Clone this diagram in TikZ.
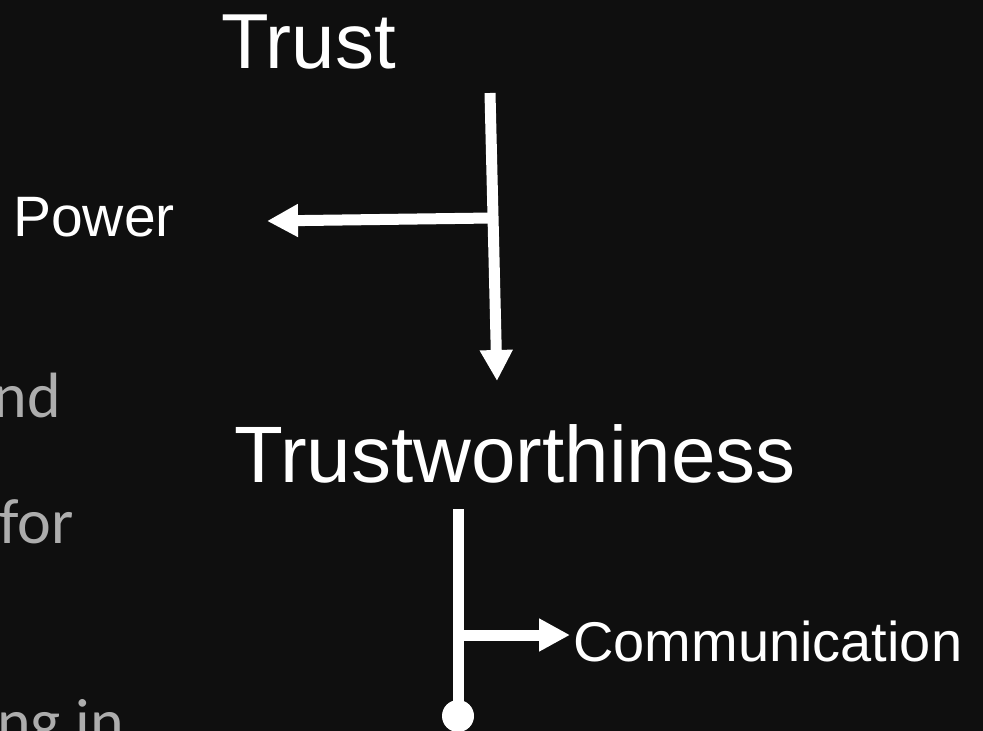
\documentclass[tikz,border=0pt]{standalone}
\usepackage{fontspec}
\setmainfont{Liberation Sans}
\newfontfamily\greyfont{Carlito}
\usetikzlibrary{arrows.meta}
\definecolor{bg}{HTML}{0F0F0F}
\definecolor{greytext}{HTML}{ADADAD}
\begin{document}
\begin{tikzpicture}[x=1pt,y=-1pt,
  lbl/.style={text=white, inner sep=0pt, anchor=base west},
  conn/.style={draw=white, line width=11pt},
  head/.style={-{Triangle[length=31pt,width=31pt]}},
  ghost/.style={text=greytext, inner sep=0pt, font=\greyfont\fontsize{64}{70}\selectfont}]
\fill[bg] (0,0) rectangle (983,731);
\useasboundingbox (0,0) rectangle (983,731);
\clip (0,0) rectangle (983,731);

% faded background text on the left edge
\node[ghost, anchor=base east] (g1) at (61,417) {nd};
\node[ghost, anchor=base west] (g2) at (-1,543) {for};
\node[ghost, anchor=base west] (g3) at (-3,743) {ng in};

% labels
\node[lbl, font=\fontsize{78}{90}\selectfont] (trust) at (221,68) {Trust};
\node[lbl, font=\fontsize{57}{66}\selectfont] (power) at (13,236) {Power};
\node[lbl, font=\fontsize{80}{92}\selectfont] (tw) at (234,482) {Trustworthiness};
\node[lbl, font=\fontsize{56}{64}\selectfont] (comm) at (573,661) {Communication};

% upper connectors
\coordinate (t1) at (490,93);
\coordinate (t2) at (497,381);
\coordinate (tj) at (492,218);
\coordinate (ptip) at (267,221);
\draw[conn, head] (t1) -- (t2);
\draw[conn, head] (tj) -- (ptip);

% lower connectors
\coordinate (b1) at (458,509);
\coordinate (bdot) at (458,716);
\coordinate (bj) at (458,635);
\coordinate (ctip) at (570,635);
\draw[conn] (b1) -- (bdot);
\fill[white] (bdot) circle (16);
\draw[conn, head] (bj) -- (ctip);
\end{tikzpicture}
\end{document}
